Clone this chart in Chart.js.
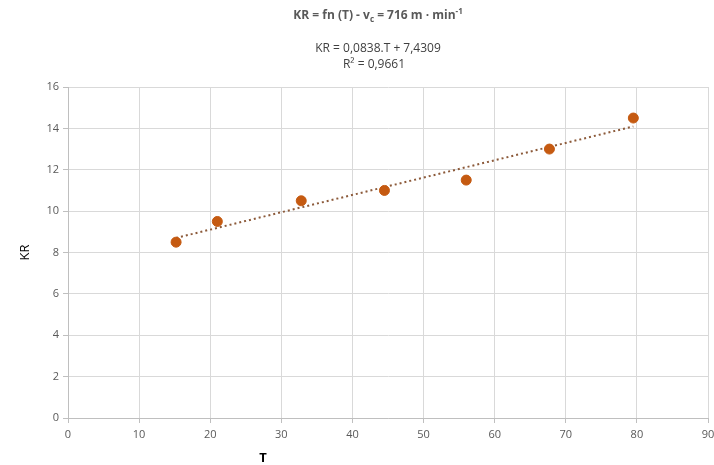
<!DOCTYPE html>
<html>
<head>
<meta charset="utf-8">
<script src="https://cdn.jsdelivr.net/npm/chart.js@4.4.1/dist/chart.umd.min.js"></script>
<style>
    html, body { margin: 0; padding: 0; background: #fff; }
    #wrap { width: 714px; height: 465px; position: relative; }
</style>
</head>
<body>
<div id="wrap"><canvas id="kr-chart"></canvas></div>
<script>
// Measured points, T vs KR
const tValues = [15.2, 21, 32.8, 44.5, 56, 67.7, 79.5];
const krValues = [8.5, 9.5, 10.5, 11, 11.5, 13, 14.5];

// Linear trend as printed on the chart
const trendSlope = 0.0838;
const trendIntercept = 7.4309;
const rSquared = '0,9661';

const xTicks = [0, 10, 20, 30, 40, 50, 60, 70, 80, 90];
const yTicks = [0, 2, 4, 6, 8, 10, 12, 14, 16];

const FONT = '"Open Sans", "Noto Sans", sans-serif';

const points = tValues.map((t, i) => ({ x: t, y: krValues[i] }));
const tMin = Math.min(...tValues);
const tMax = Math.max(...tValues);
const trend = [tMin, tMax].map(t => ({ x: t, y: trendSlope * t + trendIntercept }));

// Title, equation and the offset "T" label drawn on top
const textPlugin = {
    id: 'texts',
    afterDraw(chart) {
        const c = chart.ctx;
        c.save();
        c.fillStyle = '#595959';
        c.textBaseline = 'alphabetic';

        // main title with subscript / superscript
        const parts = [
            { t: 'KR = fn (T) - v', f: 'bold 12px ' + FONT, dy: 0 },
            { t: 'c', f: 'bold 8px ' + FONT, dy: 3 },
            { t: ' = 716 m · min', f: 'bold 12px ' + FONT, dy: 0 },
            { t: '-1', f: 'bold 8px ' + FONT, dy: -5 }
        ];
        let total = 0;
        parts.forEach(p => { c.font = p.f; total += c.measureText(p.t).width; });
        let x = 378 - total / 2;
        parts.forEach(p => {
            c.font = p.f;
            c.textAlign = 'left';
            c.fillText(p.t, x, 19 + p.dy);
            x += c.measureText(p.t).width;
        });

        // trend equation
        c.fillStyle = '#404040';
        c.font = '12px ' + FONT;
        c.textAlign = 'center';
        const sl = trendSlope.toFixed(4).replace('.', ',');
        const ic = trendIntercept.toFixed(4).replace('.', ',');
        c.fillText('KR = ' + sl + '.T + ' + ic, 378, 52);
        c.fillText('R² = ' + rSquared, 374, 68);

        // x axis title
        c.fillStyle = '#000';
        c.font = 'bold 13px ' + FONT;
        c.fillText('T', 263, 462);
        c.restore();
    }
};

new Chart(document.getElementById('kr-chart'), {
    type: 'scatter',
    data: {
        datasets: [
            {
                label: 'KR',
                data: points,
                backgroundColor: '#c55a11',
                borderColor: '#c55a11',
                pointRadius: 5,
                pointHoverRadius: 5,
                order: 1
            },
            {
                label: 'Trend',
                type: 'line',
                data: trend,
                borderColor: '#8c5a3a',
                borderWidth: 2,
                borderDash: [2, 3],
                pointRadius: 0,
                fill: false,
                order: 2
            }
        ]
    },
    plugins: [textPlugin],
    options: {
        responsive: true,
        maintainAspectRatio: false,
        animation: false,
        layout: { padding: { top: 87, right: 3, left: 0, bottom: 0 } },
        plugins: {
            legend: { display: false },
            tooltip: { enabled: false }
        },
        scales: {
            x: {
                type: 'linear',
                min: 0,
                max: 90,
                afterBuildTicks: axis => { axis.ticks = xTicks.map(v => ({ value: v })); },
                afterFit: axis => { axis.height = 47; axis.paddingRight = 0; },
                grid: { color: '#d9d9d9', tickLength: 5, tickColor: '#bfbfbf' },
                border: { color: '#bfbfbf' },
                ticks: { color: '#595959', font: { family: FONT, size: 11 }, padding: 5, maxRotation: 0 }
            },
            y: {
                min: 0,
                max: 16,
                afterBuildTicks: axis => { axis.ticks = yTicks.map(v => ({ value: v })); },
                afterFit: axis => { axis.width = 68; },
                grid: { color: '#d9d9d9', tickLength: 5, tickColor: '#bfbfbf' },
                border: { color: '#bfbfbf' },
                title: {
                    display: true,
                    text: 'KR',
                    color: '#000',
                    font: { family: FONT, size: 13 },
                    padding: { top: 17, bottom: 8 }
                },
                ticks: { color: '#595959', font: { family: FONT, size: 11 }, padding: 4 }
            }
        }
    }
});
</script>
</body>
</html>
